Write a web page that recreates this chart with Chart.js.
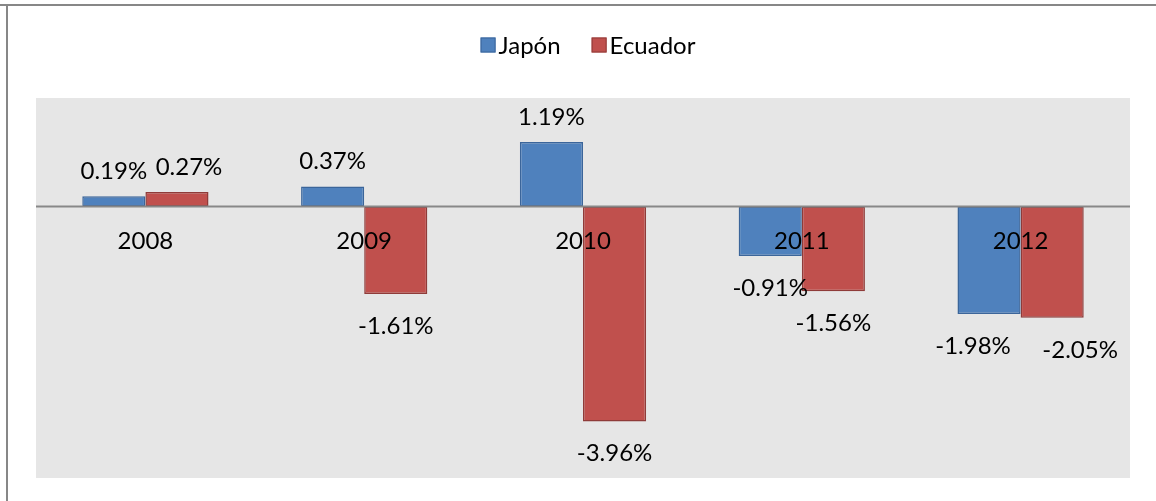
<!DOCTYPE html>
<html>
<head>
<meta charset="utf-8">
<script src="https://cdn.jsdelivr.net/npm/chart.js@4.4.0/dist/chart.umd.min.js"></script>
<style>
html,body{margin:0;padding:0;background:#fff;}
#wrap{width:1156px;height:501px;position:relative;}
</style>
</head>
<body>
<div id="wrap"><canvas id="c" width="1156" height="501"></canvas></div>
<script>
const categories = ['2008', '2009', '2010', '2011', '2012'];
const japon = [0.19, 0.37, 1.19, -0.91, -1.98];
const ecuador = [0.27, -1.61, -3.96, -1.56, -2.05];
const seriesNames = ['Japón', 'Ecuador'];
const FONT = 'Lato, "Open Sans", sans-serif';
// manual label nudges (px) as in the original, to avoid overlapping labels
const labelNudge = [[0, 0, 0, 0, -16], [12, 0, 0, 0, 28]];

const decor = {
  id: 'decor',
  beforeDraw(chart) {
    const {ctx, chartArea: a} = chart;
    ctx.save();
    ctx.fillStyle = '#e6e6e6';
    ctx.fillRect(a.left, a.top, a.right - a.left, a.bottom - a.top);
    ctx.fillStyle = '#878787';
    ctx.fillRect(0, 4, chart.width, 2);
    ctx.fillRect(6, 4, 2, chart.height - 4);
    // legend
    ctx.font = '24px ' + FONT;
    ctx.textBaseline = 'middle';
    const items = chart.data.datasets.map(d => ({label: d.label, fill: d.backgroundColor, stroke: d.borderColor}));
    const box = 15, gapBox = 3, gapItem = 31;
    let total = 0;
    items.forEach((it, i) => { it.w = ctx.measureText(it.label).width; total += box + gapBox + it.w + (i ? gapItem : 0); });
    let x = 588 - total / 2;
    const y = 45;
    items.forEach((it, i) => {
      if (i) x += gapItem;
      ctx.fillStyle = it.fill; ctx.fillRect(x, y - box / 2, box, box);
      ctx.strokeStyle = it.stroke; ctx.lineWidth = 1; ctx.strokeRect(x + 0.5, y - box / 2 + 0.5, box - 1, box - 1);
      x += box + gapBox;
      ctx.fillStyle = '#000'; ctx.textAlign = 'left';
      ctx.fillText(it.label, x, y + 1);
      x += it.w;
    });
    ctx.restore();
  },
  afterDatasetsDraw(chart) {
    const {ctx, chartArea: a, scales} = chart;
    const y0 = scales.y.getPixelForValue(0);
    ctx.save();
    ctx.strokeStyle = '#888';
    ctx.lineWidth = 2;
    ctx.beginPath(); ctx.moveTo(a.left, y0); ctx.lineTo(a.right, y0); ctx.stroke();
    ctx.font = '24px ' + FONT;
    ctx.fillStyle = '#000';
    ctx.textAlign = 'center';
    ctx.textBaseline = 'middle';
    categories.forEach((c, i) => {
      ctx.fillText(c, scales.x.getPixelForValue(i), y0 + 35);
    });
    chart.data.datasets.forEach((ds, di) => {
      const meta = chart.getDatasetMeta(di);
      meta.data.forEach((bar, i) => {
        const v = ds.data[i];
        const txt = v.toFixed(2) + '%';
        const ty = v >= 0 ? bar.y - 25 : bar.y + 32;
        ctx.fillText(txt, bar.x + labelNudge[di][i], ty);
      });
    });
    ctx.restore();
  }
};

new Chart(document.getElementById('c'), {
  type: 'bar',
  data: {
    labels: categories,
    datasets: [
      {label: seriesNames[0], data: japon, backgroundColor: '#4f81bd', borderColor: '#3b659a', borderWidth: 1.5, borderSkipped: false},
      {label: seriesNames[1], data: ecuador, backgroundColor: '#c0504d', borderColor: '#8f3b39', borderWidth: 1.5, borderSkipped: false}
    ]
  },
  options: {
    responsive: false,
    animation: false,
    layout: {padding: {left: 36, right: 26, top: 98, bottom: 23}},
    plugins: {legend: {display: false}, tooltip: {enabled: false}},
    datasets: {bar: {categoryPercentage: 0.577, barPercentage: 1}},
    scales: {
      x: {display: false, grid: {display: false}},
      y: {display: false, min: -5, max: 2, grid: {display: false}}
    }
  },
  plugins: [decor]
});
</script>
</body>
</html>
